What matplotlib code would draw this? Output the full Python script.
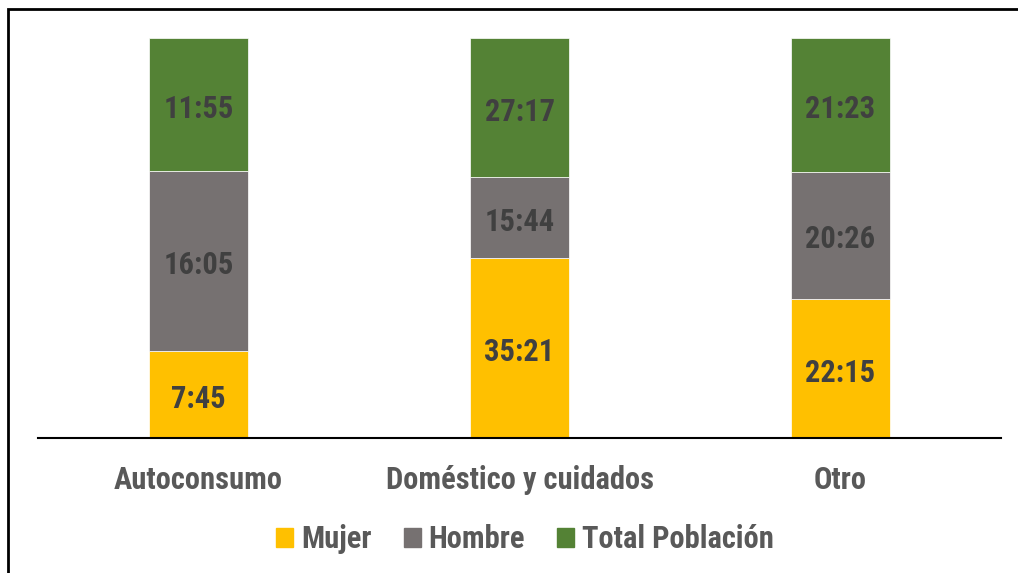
import numpy as np
import matplotlib.pyplot as plt
from matplotlib.patches import Rectangle, Patch

# Categories and time values (hh:mm) per series
categories = ["Autoconsumo", "Doméstico y cuidados", "Otro"]
series_names = ["Mujer", "Hombre", "Total Población"]
mujer = ["7:45", "35:21", "22:15"]
hombre = ["16:05", "15:44", "20:26"]
total = ["11:55", "27:17", "21:23"]

COLORS = ["#FFC000", "#767171", "#548235"]


def to_minutes(t):
    """Convert 'hh:mm' string to minutes."""
    h, m = t.split(":")
    return int(h) * 60 + int(m)


def main():
    plt.rcParams["font.family"] = ["Roboto Condensed", "DejaVu Sans"]

    fig = plt.figure(figsize=(10.18, 5.73), dpi=100)
    ax = fig.add_axes([38 / 1018, 1 - 438 / 573, 963 / 1018, 400 / 573])

    labels = [mujer, hombre, total]
    values = np.array([[to_minutes(t) for t in s] for s in labels], dtype=float)
    # 100% stacked: each bar shows the share of each series
    shares = values / values.sum(axis=0)

    x = np.arange(len(categories))
    bottom = np.zeros(len(categories))
    for i, name in enumerate(series_names):
        ax.bar(x, shares[i], bottom=bottom, width=0.31, color=COLORS[i],
               edgecolor="white", linewidth=0.5, label=name)
        for j in range(len(categories)):
            ax.annotate(labels[i][j], (x[j], bottom[j] + shares[i][j] / 2),
                        xytext=(0, -3), textcoords="offset points",
                        ha="center", va="center", fontsize=22,
                        fontweight="bold", color="#404040")
        bottom += shares[i]

    ax.set_xlim(-0.5, 2.5)
    ax.set_ylim(0, 1)
    ax.set_yticks([])
    ax.set_xticks(x)
    ax.set_xticklabels(categories, fontsize=22, fontweight="bold", color="#595959")
    ax.tick_params(axis="x", length=0, pad=19.5)
    for side in ["top", "right", "left"]:
        ax.spines[side].set_visible(False)
    ax.spines["bottom"].set_linewidth(1.5)

    handles = [Patch(color=c) for c in COLORS]
    leg = fig.legend(handles, series_names, loc="center", ncol=3,
                     bbox_to_anchor=(525 / 1018, 1 - 539 / 573), frameon=False,
                     fontsize=22, handlelength=0.56, handleheight=0.56,
                     handletextpad=0.25, columnspacing=1.05)
    for t in leg.get_texts():
        t.set_fontweight("bold")
        t.set_color("#595959")

    # Outer frame (cut off on the right and bottom)
    fig.patches.append(Rectangle((8 / 1018, -0.1), 1.2, 1 - 9 / 573 + 0.1,
                                 transform=fig.transFigure, fill=False,
                                 edgecolor="black", linewidth=2))

    fig.savefig("out.png", dpi=100)


if __name__ == "__main__":
    main()
